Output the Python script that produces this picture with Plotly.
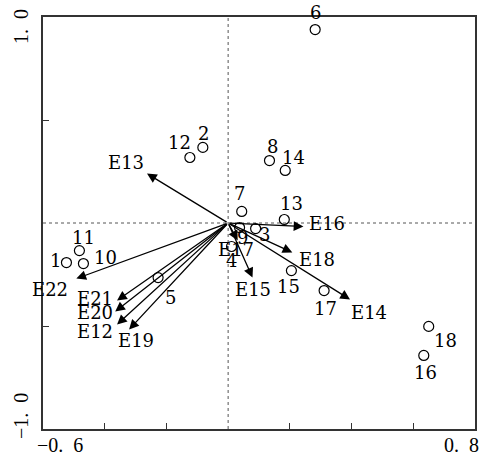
import plotly.graph_objects as go

# Sample scores (circles)
sample_ids = ["1","2","3","4","5","6","7","8","9","10","11","12","13","14","15","16","17","18"]
sample_x = [-0.524,-0.082,0.089,0.011,-0.227,0.282,0.044,0.134,0.037,-0.469,-0.482,-0.124,0.182,0.185,0.205,0.634,0.311,0.650]
sample_y = [-0.192,0.367,-0.027,-0.114,-0.265,0.939,0.056,0.303,-0.022,-0.197,-0.134,0.318,0.017,0.255,-0.231,-0.643,-0.328,-0.502]

# Environmental vectors (arrows from origin)
env_names = ["E12","E13","E14","E15","E16","E17","E18","E19","E20","E21","E22"]
env_x = [-0.360,-0.263,0.395,0.079,0.244,0.031,0.208,-0.321,-0.366,-0.360,-0.492]
env_y = [-0.493,0.240,-0.371,-0.265,-0.017,-0.085,-0.143,-0.517,-0.430,-0.376,-0.270]

# Axis ranges / tick labels
x_range = [-0.6, 0.8]
y_range = [-1.0, 1.0]
x_ticks = [-0.4, -0.2, 0.2, 0.4, 0.6]
y_ticks = [-0.5, 0.5]
x_end_labels = ["\u22120.\u20026", "0.\u20028"]
y_end_labels = ["\u22121.\u20020", "1.\u20020"]

# label pixel offsets (dx right, dy down)
sample_off = {"1":(-11,-2),"2":(1,-14),"3":(9,6),"4":(0,14),"5":(12,20),"6":(0,-17),
              "7":(-2,-18),"8":(3,-14),"9":(3,10),"10":(22,-6),"11":(4,-13),"12":(-10,-15),
              "13":(7,-16),"14":(8,-13),"15":(-3,16),"16":(2,17),"17":(1,18),"18":(17,14)}
env_off = {"E12":(-22,7),"E13":(-21,-11),"E14":(19,13),"E15":(0,12),"E16":(24,-3),
           "E17":(-2,9),"E18":(25,7),"E19":(7,11),"E20":(-20,1),"E21":(-22,-2),"E22":(-26,11)}

FONT = "DejaVu Serif"
FS = 18

fig = go.Figure()

# origin dotted lines
fig.add_shape(type="line", x0=0, x1=0, y0=y_range[0], y1=y_range[1], xref="x", yref="y",
              line=dict(color="#555", width=1, dash="dot"), layer="below")
fig.add_shape(type="line", x0=x_range[0], x1=x_range[1], y0=0, y1=0, xref="x", yref="y",
              line=dict(color="#555", width=1, dash="dot"), layer="below")

fig.add_trace(go.Scatter(x=sample_x, y=sample_y, mode="markers",
                         marker=dict(symbol="circle-open", size=10, color="black",
                                     line=dict(width=1.2, color="black")),
                         showlegend=False, hoverinfo="skip"))

annotations = []
for n, x, y in zip(env_names, env_x, env_y):
    annotations.append(dict(x=x, y=y, ax=0, ay=0, xref="x", yref="y", axref="x", ayref="y",
                            text="", showarrow=True, arrowhead=2, arrowsize=1.5,
                            arrowwidth=1.3, arrowcolor="black", standoff=0, startstandoff=0))
    dx, dy = env_off[n]
    annotations.append(dict(x=x, y=y, xref="x", yref="y", text=n, showarrow=False,
                            xshift=dx, yshift=-dy, font=dict(family=FONT, size=FS, color="black")))
for n, x, y in zip(sample_ids, sample_x, sample_y):
    dx, dy = sample_off[n]
    annotations.append(dict(x=x, y=y, xref="x", yref="y", text=n, showarrow=False,
                            xshift=dx, yshift=-dy, font=dict(family=FONT, size=FS, color="black")))

# axis end labels
TF = dict(family="Liberation Serif, serif", size=20, color="black")
annotations += [
    dict(xref="paper", yref="paper", x=-0.0507, y=0.976, text=y_end_labels[1], textangle=-90,
         xanchor="center", yanchor="middle", showarrow=False, font=TF),
    dict(xref="paper", yref="paper", x=-0.0507, y=0.0316, text=y_end_labels[0], textangle=-90,
         xanchor="center", yanchor="middle", showarrow=False, font=TF),
    dict(xref="paper", yref="paper", x=-0.0185, y=-0.038, text=x_end_labels[0], xanchor="left",
         yanchor="middle", showarrow=False, font=TF),
    dict(xref="paper", yref="paper", x=1.0138, y=-0.038, text=x_end_labels[1], xanchor="right",
         yanchor="middle", showarrow=False, font=TF),
]

fig.update_layout(
    width=486, height=456,
    margin=dict(l=43, r=9, t=17, b=27),
    paper_bgcolor="white", plot_bgcolor="white",
    annotations=annotations,
    xaxis=dict(range=x_range, tickvals=x_ticks, ticks="inside", ticklen=6, tickcolor="#333",
               showticklabels=False, showgrid=False, zeroline=False,
               showline=True, linecolor="#333", linewidth=1.5, mirror=True),
    yaxis=dict(range=y_range, tickvals=y_ticks, ticks="inside", ticklen=6, tickcolor="#333",
               showticklabels=False, showgrid=False, zeroline=False,
               showline=True, linecolor="#333", linewidth=1.5, mirror=True),
)

fig.write_html("out.html", config={"displayModeBar": False},
               post_script="document.body.style.margin='0';document.body.style.overflow='hidden';")
